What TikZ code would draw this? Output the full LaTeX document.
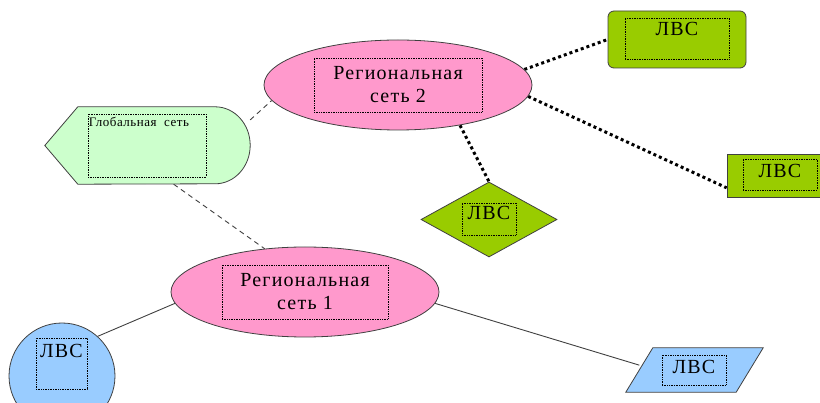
\documentclass[tikz,border=0pt]{standalone}
\usepackage{fontspec}
\setmainfont{Liberation Serif}
\usetikzlibrary{positioning,shapes.geometric,backgrounds}

\definecolor{netpink}{HTML}{FF99CC}
\definecolor{globgreen}{HTML}{CCFFCC}
\definecolor{lvsgreen}{HTML}{99CC00}
\definecolor{lvsblue}{HTML}{99CCFF}

\tikzset{
  shapeline/.style={draw=black!75, line width=0.8pt},
  regnet/.style={shapeline, ellipse, fill=netpink, minimum width=268pt, minimum height=90pt, inner sep=0pt},
  dotbox/.style={draw=black, densely dotted, line width=0.7pt, inner sep=0pt},
  regtext/.style={font=\fontsize{20}{23}\selectfont\addfontfeature{LetterSpace=6}, align=center},
  lvstext/.style={font=\fontsize{20}{22}\selectfont\addfontfeature{LetterSpace=6}, inner sep=0pt},
  globtext/.style={font=\fontsize{13}{15}\selectfont\addfontfeature{LetterSpace=4}, inner sep=0pt},
  solidlink/.style={draw=black!75, line width=0.9pt},
  dashlink/.style={draw=black!75, line width=0.9pt, dash pattern=on 5pt off 4pt},
  dotlink/.style={draw=black, line width=3pt, dash pattern=on 3pt off 3pt},
}

\begin{document}
\begin{tikzpicture}[x=1pt, y=-1pt]
  \useasboundingbox (0,0) rectangle (820,403);
  \clip (0,0) rectangle (820,403);

  % global network
  \node[minimum width=205pt, minimum height=77pt, inner sep=0pt] (glob) at (147.5,145.5) {};
  \draw[shapeline, fill=globgreen] (glob.west) -- ([xshift=33pt]glob.north west)
    -- ([xshift=-35pt]glob.north east) arc[start angle=90, end angle=-90, x radius=35pt, y radius=38.5pt]
    -- ([xshift=33pt]glob.south west) -- cycle;
  \node[dotbox, minimum width=118pt, minimum height=63pt] (globbox) at (147,145.5) {};
  \node[globtext, anchor=north west] (globtxt) at ([xshift=1pt, yshift=-3pt]globbox.north west) {Глобальная\ \ сеть};

  % regional networks
  \node[regnet] (reg2) at (398,85) {};
  \node[dotbox, regtext, minimum width=168pt, minimum height=54pt] (reg2box) at (reg2) {Региональная\\сеть 2};
  \node[regnet] (reg1) at (305,292) {};
  \node[dotbox, regtext, minimum width=166pt, minimum height=54pt] (reg1box) at (reg1) {Региональная\\сеть 1};

  % local networks
  \node[shapeline, fill=lvsblue, circle, minimum size=106pt] (lan1) at (62,376) {};
  \node[dotbox, minimum width=51pt, minimum height=51pt] (lan1box) at (61.5,363.5) {};
  \node[lvstext, below=6pt of lan1box.north] (lan1txt) {ЛВС};

  \node[shapeline, fill=lvsgreen, rounded corners=6pt, minimum width=138pt, minimum height=57pt] (lan2) at (677,39.5) {};
  \node[dotbox, minimum width=104pt, minimum height=41pt] (lan2box) at (677,38.5) {};
  \node[lvstext, below=4pt of lan2box.north] (lan2txt) {ЛВС};

  \node[shapeline, fill=lvsgreen, minimum width=106pt, minimum height=43pt] (lan3) at (780,175.5) {};
  \node[dotbox, minimum width=74pt, minimum height=31pt] (lan3box) at (780,174.5) {};
  \node[lvstext, below=5pt of lan3box.north] (lan3txt) {ЛВС};

  \node[shapeline, fill=lvsgreen, diamond, minimum width=136pt, minimum height=75pt] (lan4) at (489,219.5) {};
  \node[dotbox, minimum width=54pt, minimum height=32pt] (lan4box) at (489,219) {};
  \node[lvstext, below=3pt of lan4box.north] (lan4txt) {ЛВС};

  \node[minimum width=110pt, minimum height=44pt, inner sep=0pt] (lan5) at (694.5,370) {};
  \draw[shapeline, fill=lvsblue] ([xshift=13.5pt]lan5.north west) -- ([xshift=13.5pt]lan5.north east)
    -- ([xshift=-13.5pt]lan5.south east) -- ([xshift=-13.5pt]lan5.south west) -- cycle;
  \node[dotbox, minimum width=64pt, minimum height=30pt] (lan5box) at (694,370) {};
  \node[lvstext, below=5pt of lan5box.north] (lan5txt) {ЛВС};

  % links
  \begin{scope}[on background layer]
    \draw[dashlink] (glob.14) -- (reg2.187);
    \draw[dashlink] (glob.-56) -- (reg1.133);
    \draw[solidlink] (reg1.185) -- (lan1.48);
    \draw[solidlink] (reg1.-5) -- (lan5.175);
    \draw[dotlink] (reg2.7) -- (lan2.west);
    \draw[dotlink] (reg2.-5) -- (lan3.193);
    \draw[dotlink] (reg2.-33) -- (lan4.north);
  \end{scope}
\end{tikzpicture}
\end{document}
